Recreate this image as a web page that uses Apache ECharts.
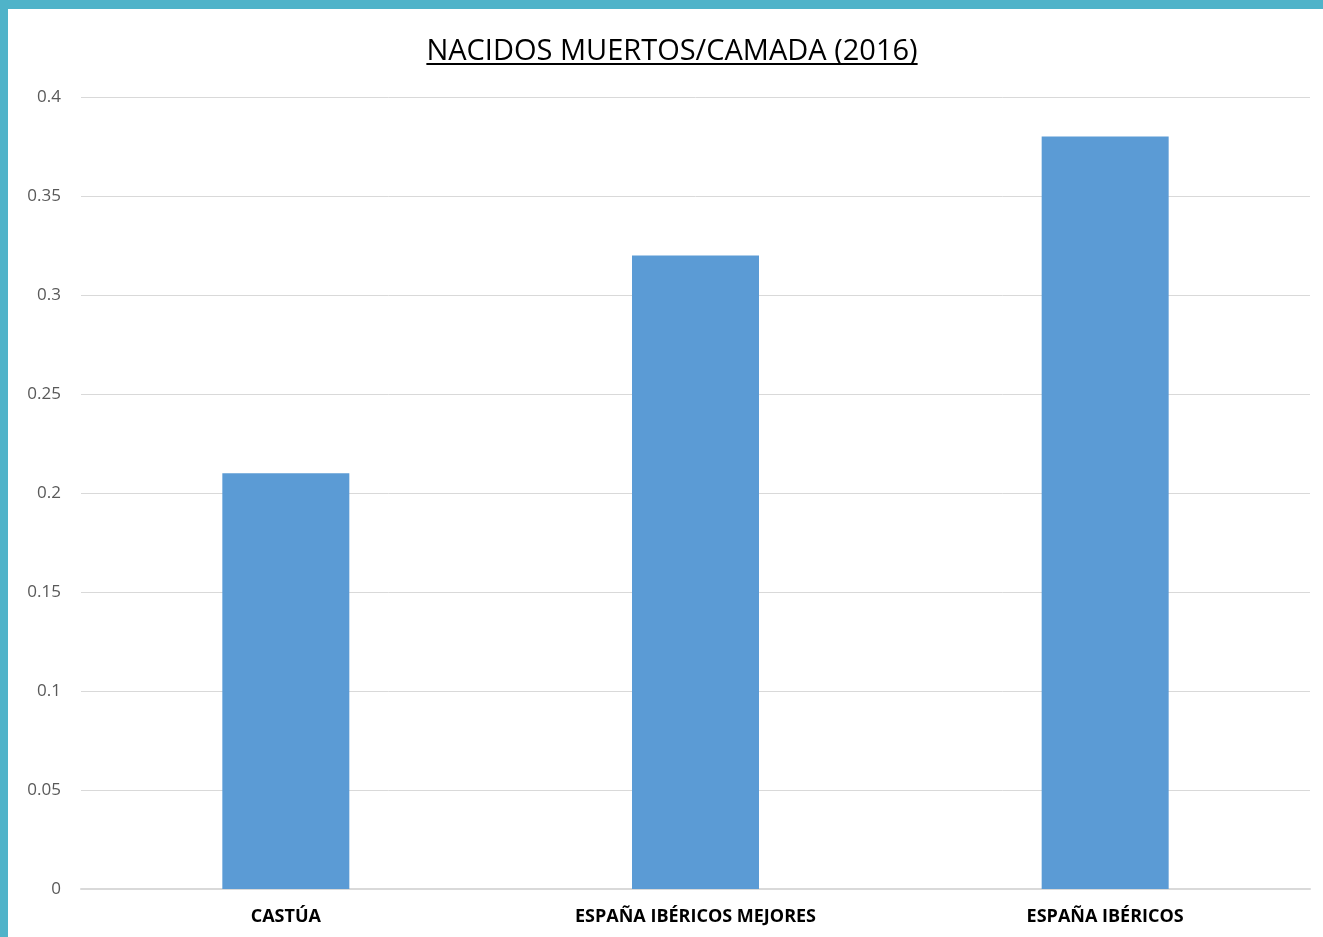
<!DOCTYPE html>
<html>
<head>
<meta charset="utf-8">
<script src="https://cdn.jsdelivr.net/npm/echarts@6/dist/echarts.min.js"></script>
<style>
  html, body { margin: 0; padding: 0; background: #4fb3c9; }
  #chart { position: absolute; left: 8px; top: 9px; width: 1315px; height: 928px; background: #fff; }
</style>
</head>
<body>
<div id="chart"></div>
<script>
var titleText = 'NACIDOS MUERTOS/CAMADA (2016)';
var categories = ['CASTÚA', 'ESPAÑA IBÉRICOS MEJORES', 'ESPAÑA IBÉRICOS'];
var values = [0.21, 0.32, 0.38];
var yTicks = { min: 0, max: 0.4, interval: 0.05 };

var titleFont = '29px "Open Sans"';

function draw() {
    // measure title so the underline fits it
    var ctx = document.createElement('canvas').getContext('2d');
    ctx.font = titleFont;
    var tw = ctx.measureText(titleText).width;
    var tx = 664 - tw / 2;

    var myChart = echarts.init(document.getElementById('chart'));
    var option = {
        backgroundColor: '#fff',
        title: {
            text: titleText,
            left: tx,
            top: 28,
            padding: 0,
            textStyle: { fontFamily: 'Open Sans', fontSize: 29, fontWeight: 'normal', color: '#000' }
        },
        graphic: [{
            type: 'rect',
            shape: { x: tx, y: 54, width: tw, height: 2 },
            style: { fill: '#000' }
        }],
        grid: { left: 73, right: 13, top: 88, bottom: 48 },
        xAxis: {
            type: 'category',
            data: categories,
            axisLine: { lineStyle: { color: '#d9d9d9', width: 2 } },
            axisTick: { show: false },
            axisLabel: { color: '#000', fontWeight: 'bold', fontSize: 18, fontFamily: 'Open Sans', margin: 19 }
        },
        yAxis: {
            type: 'value',
            min: yTicks.min,
            max: yTicks.max,
            interval: yTicks.interval,
            axisLine: { show: false },
            axisTick: { show: false },
            splitLine: { lineStyle: { color: '#d9d9d9', width: 1 } },
            axisLabel: { color: '#595959', fontSize: 17, fontFamily: 'Open Sans', margin: 20 }
        },
        series: [{
            type: 'bar',
            data: values,
            barWidth: '31%',
            itemStyle: { color: '#5b9bd5' }
        }]
    };
    myChart.setOption(option);
}

if (document.fonts && document.fonts.load) {
    document.fonts.load(titleFont).then(draw, draw);
} else {
    draw();
}
</script>
</body>
</html>
